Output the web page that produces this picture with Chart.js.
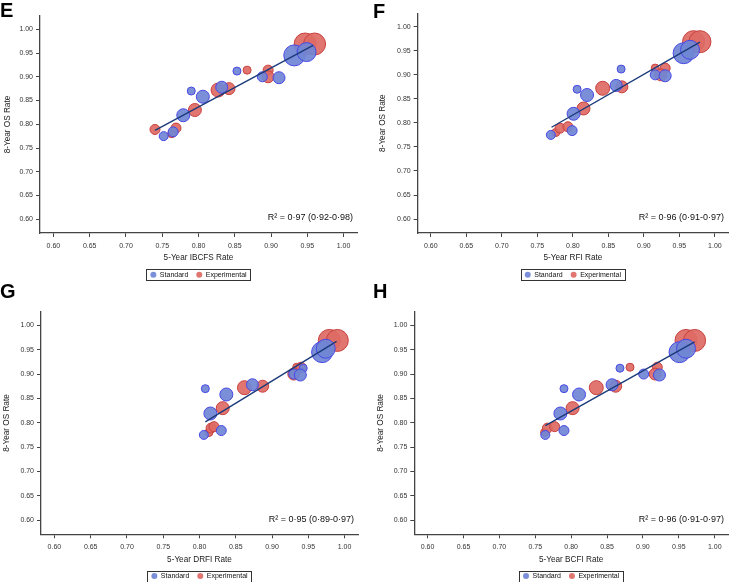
<!DOCTYPE html>
<html><head><meta charset="utf-8">
<script src="https://cdn.jsdelivr.net/npm/chart.js@4/dist/chart.umd.min.js"></script>
<style>
body{margin:0;background:#fff;width:740px;height:582px;position:relative;overflow:hidden;font-family:"Liberation Sans",Arial,sans-serif}
canvas{position:absolute}
.lbl{position:absolute;font-weight:bold;font-size:20px;line-height:1;color:#000;font-family:"Liberation Sans",Arial,sans-serif}
</style></head><body>
<canvas id="cE" width="370" height="290" style="left:0;top:0"></canvas>
<canvas id="cF" width="370" height="290" style="left:370px;top:0"></canvas>
<canvas id="cG" width="370" height="292" style="left:0;top:290px"></canvas>
<canvas id="cH" width="370" height="292" style="left:370px;top:290px"></canvas>
<div class="lbl" style="left:0;top:0">E</div>
<div class="lbl" style="left:373px;top:1px">F</div>
<div class="lbl" style="left:0;top:281px">G</div>
<div class="lbl" style="left:373px;top:281px">H</div>
<script>
// ---- tick labels ----
const xTicks = [0.60, 0.65, 0.70, 0.75, 0.80, 0.85, 0.90, 0.95, 1.00];
const yTicks = [0.60, 0.65, 0.70, 0.75, 0.80, 0.85, 0.90, 0.95, 1.00];
const seriesNames = ['Standard', 'Experimental'];

// ---- 8-year OS rate per trial arm (shared by all panels) ----
const osStandard     = [0.775, 0.784, 0.819, 0.870, 0.858, 0.878, 0.912, 0.900, 0.898, 0.945, 0.952];
const osExperimental = [0.780, 0.789, 0.792, 0.830, 0.872, 0.875, 0.914, 0.914, 0.900, 0.969, 0.969];
// relative arm size (bubble size)
const sizeStandard     = [4.5, 5, 6.5, 4, 6.5, 6, 4, 5, 6, 10.5, 9.5];
const sizeExperimental = [4, 5, 5, 6.5, 7, 6, 4, 5, 6, 11, 11];

// ---- 5-year surrogate endpoint rates ----
const ibcfsStandard     = [0.752, 0.765, 0.779, 0.790, 0.806, 0.832, 0.853, 0.888, 0.911, 0.932, 0.949];
const ibcfsExperimental = [0.763, 0.740, 0.769, 0.795, 0.827, 0.842, 0.867, 0.896, 0.896, 0.947, 0.960];
const rfiStandard       = [0.769, 0.799, 0.801, 0.806, 0.820, 0.861, 0.868, 0.916, 0.930, 0.956, 0.965];
const rfiExperimental   = [0.776, 0.782, 0.793, 0.815, 0.842, 0.869, 0.916, 0.930, 0.924, 0.970, 0.979];
const drfiStandard      = [0.806, 0.830, 0.815, 0.808, 0.837, 0.873, 0.943, 0.930, 0.939, 0.969, 0.974];
const drfiExperimental  = [0.813, 0.816, 0.820, 0.832, 0.862, 0.887, 0.934, 0.940, 0.930, 0.979, 0.990];
const bcfiStandard      = [0.764, 0.790, 0.785, 0.790, 0.811, 0.857, 0.868, 0.901, 0.923, 0.951, 0.960];
const bcfiExperimental  = [0.763, 0.767, 0.777, 0.802, 0.835, 0.862, 0.882, 0.920, 0.917, 0.960, 0.972];

// ---- regression line end points ----
const fitIBCFSx = [0.740, 0.958], fitIBCFSy = [0.787, 0.966];
const fitRFIx   = [0.770, 0.979], fitRFIy   = [0.791, 0.968];
const fitDRFIx  = [0.808, 0.989], fitDRFIy  = [0.802, 0.967];
const fitBCFIx  = [0.764, 0.972], fitBCFIy  = [0.794, 0.966];

const r2Labels = ['R\u00B2 = 0\u00B797 (0\u00B792-0\u00B798)', 'R\u00B2 = 0\u00B796 (0\u00B791-0\u00B797)',
                  'R\u00B2 = 0\u00B795 (0\u00B789-0\u00B797)', 'R\u00B2 = 0\u00B796 (0\u00B791-0\u00B797)'];
const xTitles = ['5-Year IBCFS Rate', '5-Year RFI Rate', '5-Year DRFI Rate', '5-Year BCFI Rate'];
const yTitle = '8-Year OS Rate';

const FONT = '"Liberation Sans", Arial, Helvetica, sans-serif';
Chart.defaults.font.family = FONT;

const COLORS = {
  stdFill: 'rgba(112,134,212,0.93)', stdLine: '#4848e4',
  expFill: 'rgba(222,108,100,0.93)', expLine: '#c8403e',
  fit: '#1b3a7a', axis: '#444'
};

const annotPlugin = {
  id: 'annot',
  afterDraw(chart, args, o) {
    const {ctx, chartArea: a} = chart;
    ctx.save();
    // R2 text
    ctx.font = '9px ' + FONT;
    ctx.fillStyle = '#111';
    ctx.textAlign = 'right';
    ctx.textBaseline = 'middle';
    ctx.fillText(o.r2, a.right - 4, a.bottom - 15);
    // legend box
    ctx.font = '7px ' + FONT;
    const w1 = ctx.measureText(seriesNames[0]).width;
    const w2 = ctx.measureText(seriesNames[1]).width;
    const pad = 4, dotR = 3, gap = 3.5, sep = 8;
    const total = pad + dotR * 2 + gap + w1 + sep + dotR * 2 + gap + w2 + pad;
    const cx = (a.left + a.right) / 2, cy = a.bottom + 41.7;
    const left = cx - total / 2, h = 11;
    ctx.strokeStyle = '#333'; ctx.lineWidth = 1;
    ctx.strokeRect(Math.round(left) + 0.5, Math.round(cy - h / 2) + 0.5, Math.round(total), h);
    let x = left + pad;
    const items = [[COLORS.stdFill, COLORS.stdLine, seriesNames[0], w1], [COLORS.expFill, COLORS.expLine, seriesNames[1], w2]];
    ctx.textAlign = 'left';
    items.forEach(([f, l, t, w]) => {
      ctx.beginPath(); ctx.arc(x + dotR, cy, dotR, 0, Math.PI * 2);
      ctx.fillStyle = f; ctx.fill();
      x += dotR * 2 + gap;
      ctx.fillStyle = '#111'; ctx.fillText(t, x, cy + 0.5);
      x += w + sep;
    });
    ctx.restore();
  }
};

function makePanel(p) {
  const canvas = document.getElementById(p.id);
  const W = canvas.width, H = canvas.height, xAxisH = 32;
  new Chart(canvas, {
    type: 'bubble',
    data: {
      datasets: [
        {type: 'line', label: 'fit', data: p.fitX.map((x, i) => ({x, y: p.fitY[i]})),
         borderColor: COLORS.fit, borderWidth: 1.4, pointRadius: 0, fill: false},
        {label: seriesNames[0], data: p.std.map((x, i) => ({x, y: osStandard[i], r: sizeStandard[i]})),
         backgroundColor: COLORS.stdFill, borderColor: COLORS.stdLine, borderWidth: 1},
        {label: seriesNames[1], data: p.exp.map((x, i) => ({x, y: osExperimental[i], r: sizeExperimental[i]})),
         backgroundColor: COLORS.expFill, borderColor: COLORS.expLine, borderWidth: 1}
      ]
    },
    options: {
      responsive: false, animation: false, devicePixelRatio: 1,
      layout: {padding: {left: 0, top: p.area.top, right: W - p.area.right, bottom: H - p.area.bottom - xAxisH}},
      plugins: {legend: {display: false}, tooltip: {enabled: false}, annot: {r2: p.r2}},
      scales: {
        x: {
          type: 'linear', min: 0.5815, max: 1.0185,
          afterFit: s => { s.height = xAxisH; },
          afterBuildTicks: s => { s.ticks = xTicks.map(v => ({value: v})); },
          grid: {drawOnChartArea: false, drawTicks: true, tickLength: 4, color: COLORS.axis},
          border: {display: true, color: COLORS.axis, width: 1.3},
          ticks: {font: {size: 7}, color: '#333', padding: 5, maxRotation: 0, autoSkip: false,
                  callback: v => v.toFixed(2)},
          title: {display: true, text: p.xTitle, font: {size: 8.2}, color: '#222', padding: {top: 0, bottom: 2}}
        },
        y: {
          type: 'linear', min: 0.571, max: 1.028,
          afterFit: s => { s.width = p.area.left; },
          afterBuildTicks: s => { s.ticks = yTicks.map(v => ({value: v})); },
          grid: {drawOnChartArea: false, drawTicks: true, tickLength: 4, color: COLORS.axis},
          border: {display: true, color: COLORS.axis, width: 1.3},
          ticks: {font: {size: 7}, color: '#333', padding: 3, autoSkip: false,
                  callback: v => v.toFixed(2)},
          title: {display: true, text: yTitle, font: {size: 8.2}, color: '#222', padding: {top: p.yTitlePad, bottom: 0}}
        }
      }
    },
    plugins: [annotPlugin]
  });
}

makePanel({id: 'cE', std: ibcfsStandard, exp: ibcfsExperimental, fitX: fitIBCFSx, fitY: fitIBCFSy,
  xTitle: xTitles[0], r2: r2Labels[0], yTitlePad: 3, area: {left: 40, top: 16, right: 357, bottom: 233}});
makePanel({id: 'cF', std: rfiStandard, exp: rfiExperimental, fitX: fitRFIx, fitY: fitRFIy,
  xTitle: xTitles[1], r2: r2Labels[1], yTitlePad: 8, area: {left: 47.7, top: 13.3, right: 366.7, bottom: 233}});
makePanel({id: 'cG', std: drfiStandard, exp: drfiExperimental, fitX: fitDRFIx, fitY: fitDRFIy,
  xTitle: xTitles[2], r2: r2Labels[2], yTitlePad: 2, area: {left: 41, top: 21.7, right: 363.3, bottom: 244.3}});
makePanel({id: 'cH', std: bcfiStandard, exp: bcfiExperimental, fitX: fitBCFIx, fitY: fitBCFIy,
  xTitle: xTitles[3], r2: r2Labels[3], yTitlePad: 6, area: {left: 44.3, top: 21.7, right: 368.3, bottom: 244.3}});
</script>
</body></html>
